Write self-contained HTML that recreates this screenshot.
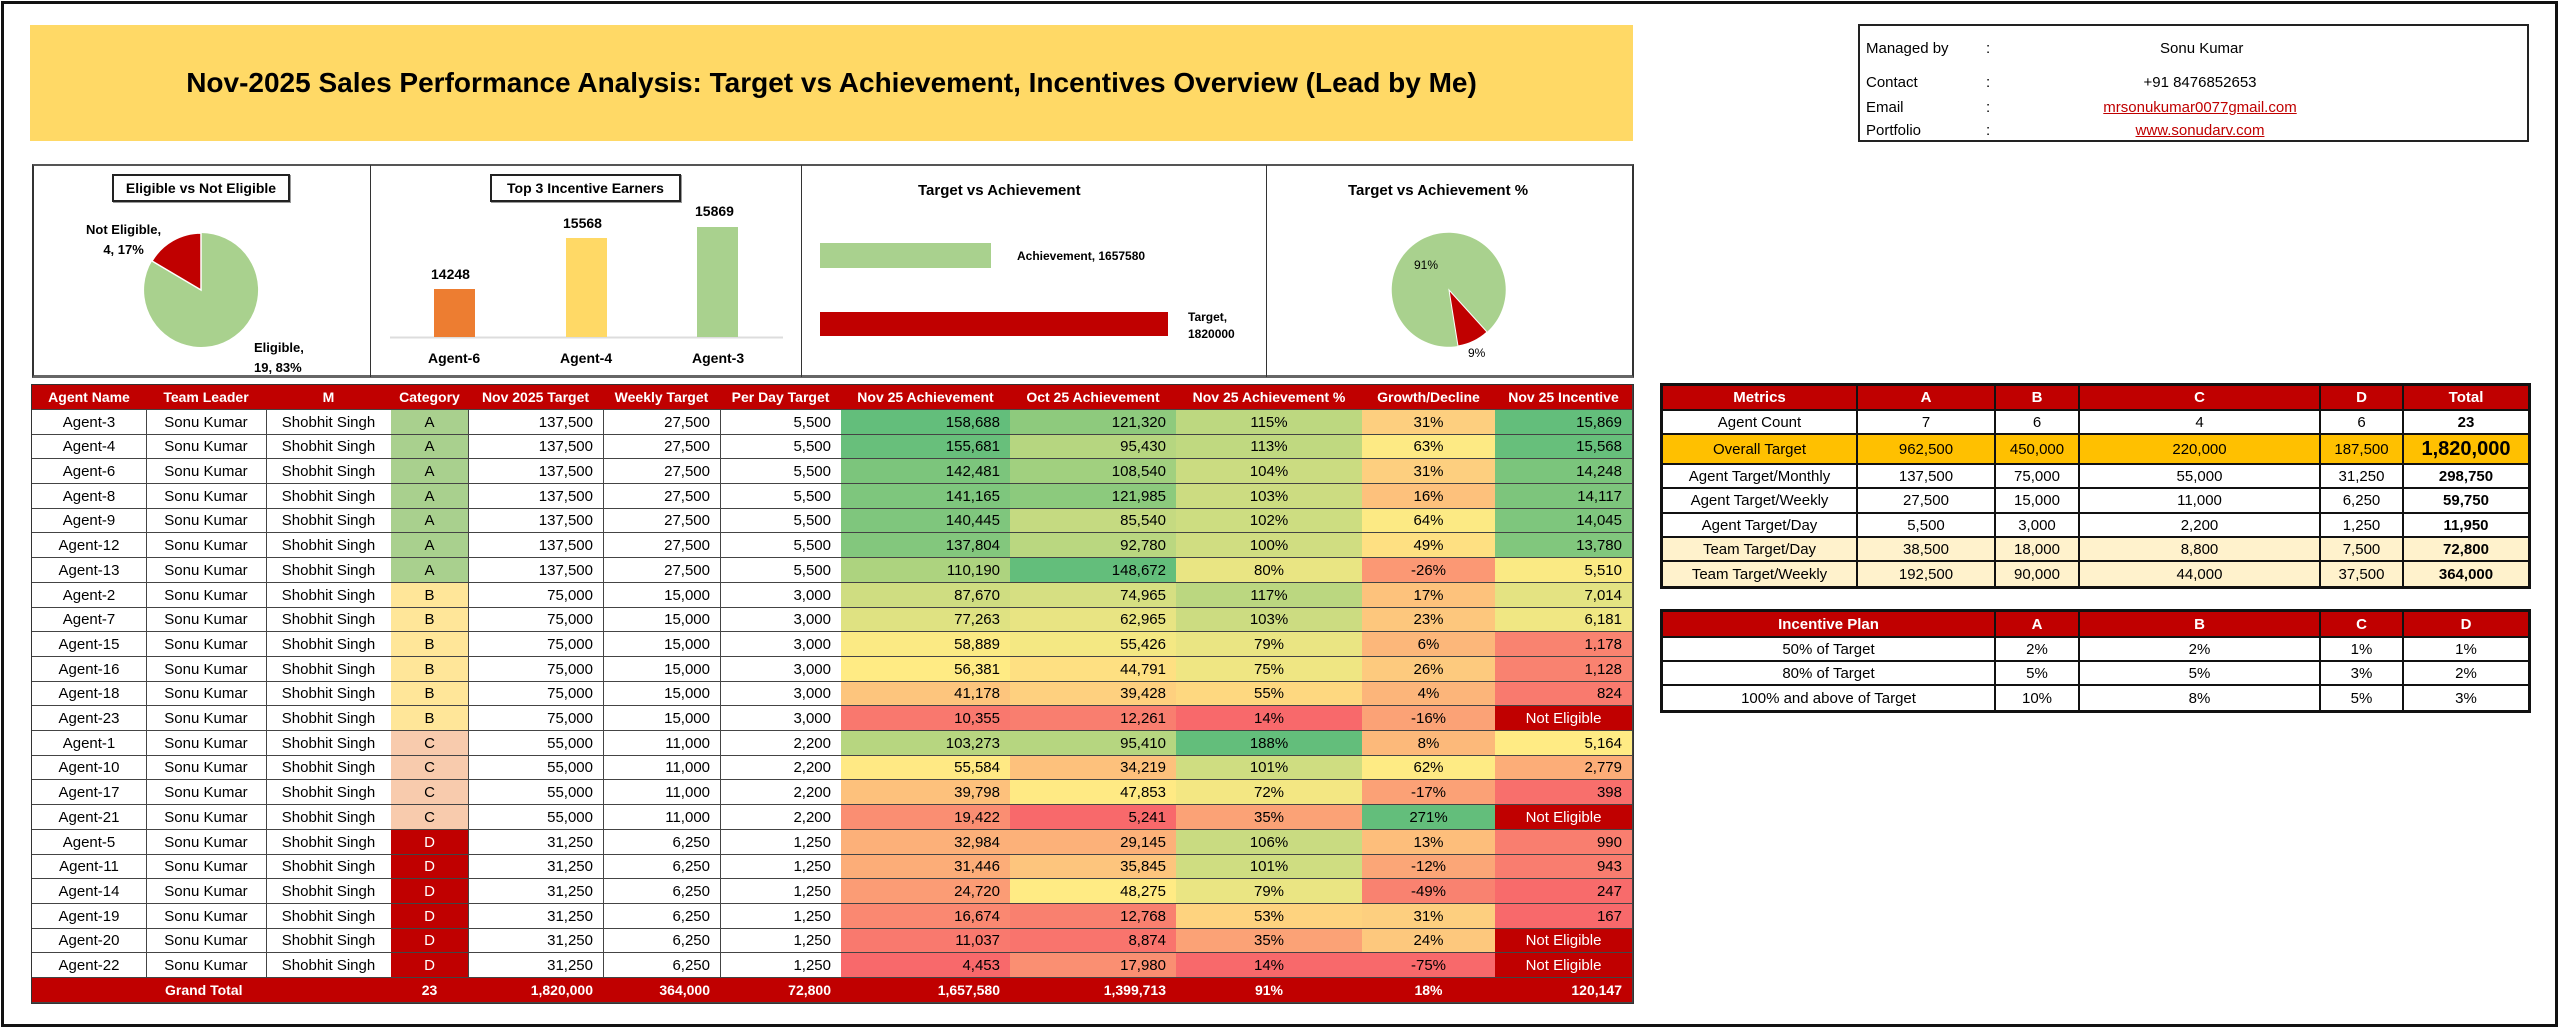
<!DOCTYPE html>
<html><head><meta charset="utf-8">
<style>
body{margin:0;width:2560px;height:1029px;background:#fff;position:relative;overflow:hidden;font-family:"Liberation Sans",sans-serif;color:#000}
.a{position:absolute;box-sizing:border-box}
.c{position:absolute;box-sizing:border-box;border-right:1px solid #444;border-bottom:1px solid #444;font-size:15px;line-height:1;display:flex;align-items:center;white-space:nowrap;overflow:hidden}
.h{background:#C00000;color:#fff;font-weight:bold;justify-content:center;font-size:14px}
.ct{justify-content:center}.rt{justify-content:flex-end;padding-right:10px}
.t{font-weight:bold;font-size:14px;position:absolute;white-space:nowrap}
</style></head><body>
<div class="a" style="left:1px;top:1px;width:2557px;height:1026px;border:3px solid #111"></div>
<div class="a" style="left:30px;top:25px;width:1603px;height:116px;background:#FFD966;display:flex;align-items:center;justify-content:center;font-weight:bold;font-size:28px">Nov-2025 Sales Performance Analysis: Target vs Achievement, Incentives Overview (Lead by Me)</div>

<div class="a" style="left:1858px;top:24px;width:671px;height:118px;border:2px solid #222;font-size:15px">
<div class="a" style="left:6px;top:14px">Managed by</div><div class="a" style="left:126px;top:14px">:</div><div class="a" style="left:300px;top:14px;width:80px;text-align:center;white-space:nowrap">Sonu Kumar</div>
<div class="a" style="left:6px;top:48px">Contact</div><div class="a" style="left:126px;top:48px">:</div><div class="a" style="left:240px;top:48px;width:200px;text-align:center">+91 8476852653</div>
<div class="a" style="left:6px;top:73px">Email</div><div class="a" style="left:126px;top:73px">:</div><div class="a" style="left:220px;top:73px;width:240px;text-align:center;color:#C00000;text-decoration:underline">mrsonukumar0077gmail.com</div>
<div class="a" style="left:6px;top:96px">Portfolio</div><div class="a" style="left:126px;top:96px">:</div><div class="a" style="left:240px;top:96px;width:200px;text-align:center;color:#C00000;text-decoration:underline">www.sonudarv.com</div>
</div>

<div class="a" style="left:32px;top:164px;width:1602px;height:214px;border:2px solid #333;border-top-color:#555;border-bottom:3px solid #666"></div>
<div class="a" style="left:370px;top:165px;width:1px;height:212px;background:#333"></div>
<div class="a" style="left:801px;top:165px;width:1px;height:212px;background:#333"></div>
<div class="a" style="left:1266px;top:165px;width:1px;height:212px;background:#333"></div>
<svg class="a" style="left:0;top:0" width="1640" height="380">
<path d="M201,290 L201,233 A57,57 0 1 1 152,261 Z" fill="#A9D18E"/>
<path d="M201,290 L152,261 A57,57 0 0 1 201,233 Z" fill="#C00000" stroke="#fff" stroke-width="1.5"/>
<line x1="390" y1="337.5" x2="783" y2="337.5" stroke="#ddd" stroke-width="2"/>
<rect x="434" y="289" width="41" height="48" fill="#ED7D31"/>
<rect x="566" y="238" width="41" height="99" fill="#FFD966"/>
<rect x="697" y="227" width="41" height="110" fill="#A9D18E"/>
<rect x="820" y="243" width="171" height="25" fill="#A9D18E"/>
<rect x="820" y="312" width="348" height="24" fill="#C00000"/>
<path d="M1449,290 L1458,346 A57,57 0 1 1 1487,332 Z" fill="#A9D18E"/>
<path d="M1449,290 L1487,332 A57,57 0 0 1 1458,346 Z" fill="#C00000" stroke="#fff" stroke-width="1"/>
</svg>
<div class="a" style="left:112px;top:174px;width:178px;height:28px;border:2px solid #222;box-shadow:1px 1px 0 #999;font-weight:bold;font-size:14px;display:flex;align-items:center;justify-content:center">Eligible vs Not Eligible</div>
<div class="a" style="left:490px;top:174px;width:191px;height:28px;border:2px solid #222;box-shadow:1px 1px 0 #999;font-weight:bold;font-size:14px;display:flex;align-items:center;justify-content:center">Top 3 Incentive Earners</div>
<div class="t" style="left:86px;top:220px;font-size:13px;text-align:center;line-height:20px">Not Eligible,<br>4, 17%</div>
<div class="t" style="left:254px;top:338px;font-size:13px;line-height:20px">Eligible,<br>19, 83%</div>
<div class="t" style="left:431px;top:266px">14248</div>
<div class="t" style="left:563px;top:215px">15568</div>
<div class="t" style="left:695px;top:203px">15869</div>
<div class="t" style="left:428px;top:350px">Agent-6</div>
<div class="t" style="left:560px;top:350px">Agent-4</div>
<div class="t" style="left:692px;top:350px">Agent-3</div>
<div class="t" style="left:918px;top:182px;font-size:15px">Target vs Achievement</div>
<div class="t" style="left:1348px;top:182px;font-size:15px">Target vs Achievement %</div>
<div class="t" style="left:1017px;top:249px;font-size:12px">Achievement, 1657580</div>
<div class="t" style="left:1188px;top:309px;font-size:12px;line-height:17px">Target,<br>1820000</div>
<div class="t" style="left:1414px;top:258px;font-weight:normal;font-size:12px">91%</div>
<div class="t" style="left:1468px;top:346px;font-weight:normal;font-size:12px">9%</div>

<div id="tbl"></div>
<script>
var X=[32,146,266,391,468,603,720,841,1010,1176,1362,1495,1632];
var H=["Agent Name","Team Leader","M","Category","Nov 2025 Target","Weekly Target","Per Day Target","Nov 25 Achievement","Oct 25 Achievement","Nov 25 Achievement %","Growth/Decline","Nov 25 Incentive"];
var D=[[3,"A",158688,121320,115,31,15869],[4,"A",155681,95430,113,63,15568],[6,"A",142481,108540,104,31,14248],[8,"A",141165,121985,103,16,14117],[9,"A",140445,85540,102,64,14045],[12,"A",137804,92780,100,49,13780],[13,"A",110190,148672,80,-26,5510],
[2,"B",87670,74965,117,17,7014],[7,"B",77263,62965,103,23,6181],[15,"B",58889,55426,79,6,1178],[16,"B",56381,44791,75,26,1128],[18,"B",41178,39428,55,4,824],[23,"B",10355,12261,14,-16,null],
[1,"C",103273,95410,188,8,5164],[10,"C",55584,34219,101,62,2779],[17,"C",39798,47853,72,-17,398],[21,"C",19422,5241,35,271,null],
[5,"D",32984,29145,106,13,990],[11,"D",31446,35845,101,-12,943],[14,"D",24720,48275,79,-49,247],[19,"D",16674,12768,53,31,167],[20,"D",11037,8874,35,24,null],[22,"D",4453,17980,14,-75,null]];
var T={A:[137500,27500,5500],B:[75000,15000,3000],C:[55000,11000,2200],D:[31250,6250,1250]};
var CC={A:"#A9D08E",B:"#FFE699",C:"#F8CBAD",D:"#C00000"};
function f(n){return n.toLocaleString("en-US")}
function mix(a,b,t){var r=[];for(var i=0;i<3;i++)r.push(Math.round(a[i]+(b[i]-a[i])*t));return "rgb("+r.join(",")+")"}
var R=[248,105,107],Y=[255,235,132],G=[99,190,123];
function scale(vals,mid){var v=vals.filter(x=>x!=null),mn=Math.min(...v),mx=Math.max(...v);
 if(mid==null){var s=v.slice().sort((a,b)=>a-b);mid=s[Math.floor(s.length/2)];}
 return function(x){if(x<=mid)return mix(R,Y,(x-mn)/(mid-mn));return mix(Y,G,(x-mid)/(mx-mid));}}
var sc=[scale(D.map(r=>r[2])),scale(D.map(r=>r[3])),scale(D.map(r=>r[4]),62),scale(D.map(r=>r[5]),60),scale(D.map(r=>r[6]))];
var out="";
function cell(i,j,y,h,txt,cls,st){out+='<div class="c '+cls+'" style="left:'+X[i]+'px;top:'+y+'px;width:'+(X[j]-X[i]+1)+'px;height:'+h+'px;'+(st||"")+'">'+txt+'</div>';}
var y0=385;
for(var i=0;i<12;i++)cell(i,i+1,y0,25,H[i],"h");
var rh=(978-410)/23;
D.forEach(function(r,k){var y=Math.round(410+k*rh),h=Math.round(410+(k+1)*rh)-y;var t=T[r[1]];
 cell(0,1,y,h,"Agent-"+r[0],"ct");cell(1,2,y,h,"Sonu Kumar","ct");cell(2,3,y,h,"Shobhit Singh","ct");
 cell(3,4,y,h,r[1],"ct","background:"+CC[r[1]]+(r[1]=="D"?";color:#fff":""));
 cell(4,5,y,h,f(t[0]),"rt");cell(5,6,y,h,f(t[1]),"rt");cell(6,7,y,h,f(t[2]),"rt");
 cell(7,8,y,h,f(r[2]),"rt","background:"+sc[0](r[2]));
 cell(8,9,y,h,f(r[3]),"rt","background:"+sc[1](r[3]));
 cell(9,10,y,h,r[4]+"%","ct","background:"+sc[2](r[4]));
 cell(10,11,y,h,r[5]+"%","ct","background:"+sc[3](r[5]));
 if(r[6]==null)cell(11,12,y,h,"Not Eligible","ct","background:#C00000;color:#fff");
 else cell(11,12,y,h,f(r[6]),"rt","background:"+sc[4](r[6]));
});
var g="background:#C00000;color:#fff;font-weight:bold;font-size:14px";
cell(0,1,978,25,"","",g);cell(1,3,978,25,"Grand Total","",g+";padding-left:19px");cell(3,4,978,25,"23","ct",g);
cell(4,5,978,25,"1,820,000","rt",g);cell(5,6,978,25,"364,000","rt",g);cell(6,7,978,25,"72,800","rt",g);
cell(7,8,978,25,"1,657,580","rt",g);cell(8,9,978,25,"1,399,713","rt",g);cell(9,10,978,25,"91%","ct",g);cell(10,11,978,25,"18%","ct",g);cell(11,12,978,25,"120,147","rt",g);
out+='<div class="a" style="left:31px;top:384px;width:1603px;height:620px;border:1px solid #333"></div>';
var MX=[1662,1857,1995,2079,2320,2403,2529],MY=[385,410,434,464,488,513,537,561,587];
var M=[["Metrics","A","B","C","D","Total"],["Agent Count","7","6","4","6","23"],["Overall Target","962,500","450,000","220,000","187,500","1,820,000"],["Agent Target/Monthly","137,500","75,000","55,000","31,250","298,750"],["Agent Target/Weekly","27,500","15,000","11,000","6,250","59,750"],["Agent Target/Day","5,500","3,000","2,200","1,250","11,950"],["Team Target/Day","38,500","18,000","8,800","7,500","72,800"],["Team Target/Weekly","192,500","90,000","44,000","37,500","364,000"]];
function mc(x1,x2,y1,y2,txt,st){out+='<div class="a" style="left:'+x1+'px;top:'+y1+'px;width:'+(x2-x1)+'px;height:'+(y2-y1)+'px;border:1.5px solid #111;display:flex;align-items:center;justify-content:center;font-size:15px;white-space:nowrap;'+st+'">'+txt+'</div>';}
M.forEach(function(r,k){r.forEach(function(t,j){var st="";
 if(k==0)st="background:#C00000;color:#fff;font-weight:bold";
 else if(k==2)st="background:#FFC000";else if(k>=6)st="background:#FFF2CC";
 if(k>0&&j==5)st+=";font-weight:bold";if(k==2&&j==5)st+=";font-size:20px";
 mc(MX[j],MX[j+1],MY[k],MY[k+1],t,st);});});
out+='<div class="a" style="left:1660px;top:383px;width:871px;height:206px;border:3px solid #111"></div>';
var IX=[1662,1995,2079,2320,2403,2529],IY=[611,637,661,685,711];
var I=[["Incentive Plan","A","B","C","D"],["50% of Target","2%","2%","1%","1%"],["80% of Target","5%","5%","3%","2%"],["100% and above of Target","10%","8%","5%","3%"]];
I.forEach(function(r,k){r.forEach(function(t,j){mc(IX[j],IX[j+1],IY[k],IY[k+1],t,k==0?"background:#C00000;color:#fff;font-weight:bold":"");});});
out+='<div class="a" style="left:1660px;top:609px;width:871px;height:104px;border:3px solid #111"></div>';
document.getElementById("tbl").innerHTML=out;
</script>
</body></html>
